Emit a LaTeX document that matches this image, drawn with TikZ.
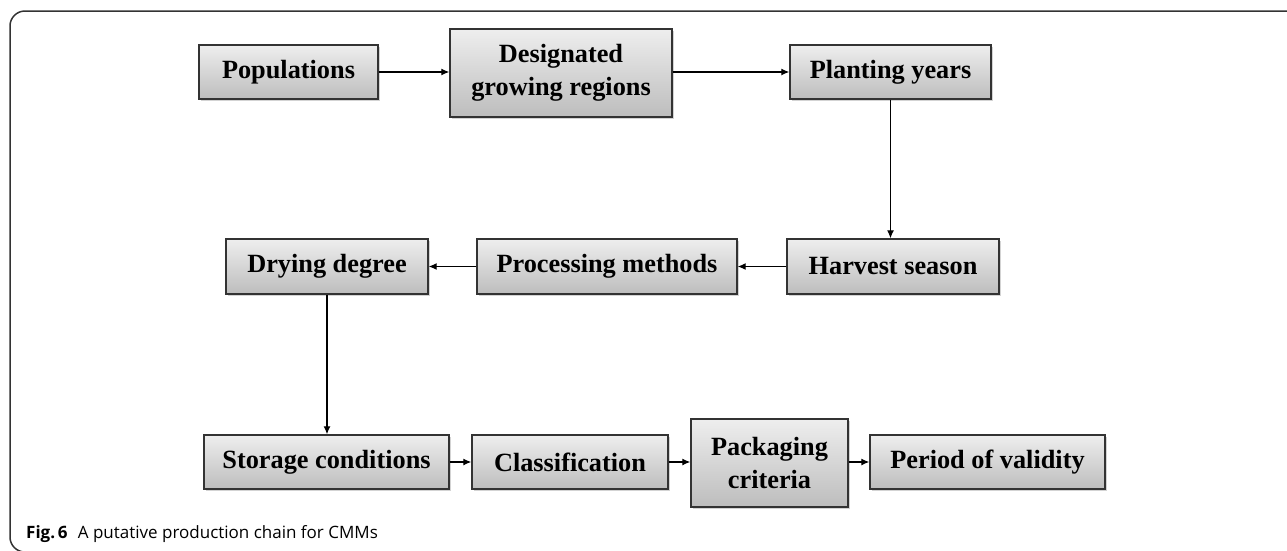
\documentclass[tikz,border=0pt]{standalone}
\usepackage{fontspec}
\setmainfont{Liberation Serif}
\newfontfamily\capfont{Open Sans}
\usetikzlibrary{arrows.meta,shadows}
\definecolor{boxtop}{HTML}{EEEEEE}
\definecolor{boxbot}{HTML}{BDBDBD}
\definecolor{edge}{HTML}{333333}
\tikzset{
  box/.style={draw=edge, line width=1.4pt, top color=boxtop, bottom color=boxbot,
    inner sep=0pt, align=center,
    font=\bfseries\fontsize{26.3}{32.5}\selectfont,
    drop shadow={shadow xshift=1.5pt, shadow yshift=-1.8pt, opacity=0.35, fill=gray}},
  arr/.style={draw=black, line width=1.2pt, -{Latex[length=8pt,width=7pt]}},
  frame/.style={draw=edge, line width=1.5pt, rounded corners=15pt}
}
\begin{document}
\begin{tikzpicture}[x=1pt,y=-1pt]
\useasboundingbox (0,0) rectangle (1287,550);
\draw[frame] (1300,11) -- (10,11) -- (10,552) -- (40,552);
% top row
\node[box, minimum width=179pt, minimum height=54pt] (pop) at (288.5,72) {Populations};
\node[box, minimum width=222pt, minimum height=88pt] (des) at (561,73) {Designated\\growing regions};
\node[box, minimum width=201pt, minimum height=54pt] (pla) at (890.5,72) {Planting years};
% middle row
\node[box, minimum width=212pt, minimum height=55pt] (har) at (893,266.5) {Harvest season};
\node[box, minimum width=260pt, minimum height=55pt] (pro) at (607,266.5) {Processing methods};
\node[box, minimum width=202pt, minimum height=55pt] (dry) at (327,266.5) {Drying degree};
% bottom row
\node[box, minimum width=245pt, minimum height=54pt] (sto) at (326.5,462) {Storage conditions};
\node[box, minimum width=196pt, minimum height=54pt] (cls) at (570,462) {Classification};
\node[box, minimum width=157pt, minimum height=88pt] (pac) at (769.5,463) {Packaging\\criteria};
\node[box, minimum width=235pt, minimum height=54pt] (per) at (987.5,462) {Period of validity};
% connectors
\draw[arr] (pop.east) -- (pop.east -| des.west);
\draw[arr] (des.east |- pla.west) -- (pla.west);
\draw[arr] (pla.south) -- (pla.south |- har.north);
\draw[arr] (har.west) -- (pro.east);
\draw[arr] (pro.west) -- (dry.east);
\draw[arr] (dry.south) -- (dry.south |- sto.north);
\draw[arr] (sto.east) -- (cls.west);
\draw[arr] (cls.east) -- (cls.east -| pac.west);
\draw[arr] (pac.east |- per.west) -- (per.west);
% caption
\node[anchor=base west, inner sep=0pt, font=\capfont\fontsize{17}{20}\selectfont] (cap) at (26,538)
  {\textbf{Fig.\,6}\hspace{0.6em}A putative production chain for CMMs};
\end{tikzpicture}
\end{document}
